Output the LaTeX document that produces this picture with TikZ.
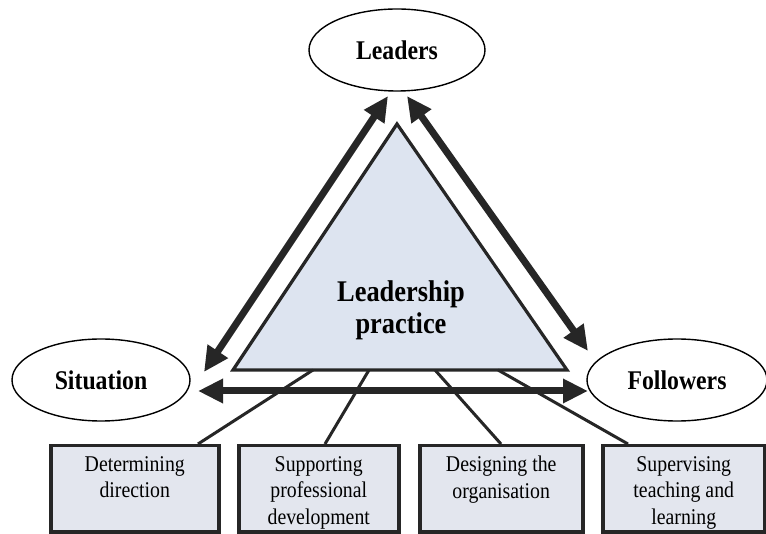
\documentclass[tikz,border=0pt]{standalone}
\usepackage{fontspec}
\setmainfont[FakeStretch=0.88]{Liberation Serif}
\usetikzlibrary{arrows.meta,shapes.geometric}
\definecolor{trifill}{HTML}{DDE4F0}
\definecolor{boxfill}{HTML}{E3E6EE}
\definecolor{edge}{HTML}{262626}
\tikzset{
  oval/.style={ellipse,draw=black,line width=1.4pt,fill=white,minimum width=#1,minimum height=82pt,inner sep=0pt,
    font=\fontsize{27}{30}\selectfont\bfseries},
  panel/.style={rectangle,draw=edge,line width=3.5pt,fill=boxfill,minimum width=#1,minimum height=86pt,inner sep=0pt,anchor=north west},
  paneltext/.style={anchor=north,align=center,inner sep=0pt,font=\fontsize{22.5}{26.5}\selectfont},
  bigarrow/.style={line width=7pt,draw=edge,{Triangle[length=25pt,width=23pt]}-{Triangle[length=25pt,width=23pt]}},
  spoke/.style={line width=3pt,draw=edge},
}
\begin{document}
\begin{tikzpicture}[x=1pt,y=-1pt]
\useasboundingbox[fill=white] (0,0) rectangle (766,534);

% triangle
\coordinate (apex) at (397,124);
\coordinate (bl) at (233,370);
\coordinate (br) at (567,370);
\draw[line width=3.2pt,draw=edge,fill=trifill,line join=miter] (apex) -- (bl) -- (br) -- cycle;
\node[align=center,font=\fontsize{30}{32}\selectfont\bfseries] (lp) at (401,310) {Leadership\\practice};

% ellipses
\node[oval=176pt] (leaders) at (397,50) {\raisebox{-3pt}{Leaders}};
\node[oval=178pt] (situation) at (101,380) {Situation};
\node[oval=180pt] (followers) at (677,380) {Followers};

% arrow end points
\coordinate (la) at (388,96);
\coordinate (lb) at (204,372);
\coordinate (ra) at (407,96);
\coordinate (rb) at (588,351);
\coordinate (ha) at (198,391);
\coordinate (hb) at (588,391);

% spokes
\coordinate (s1) at (313,370);
\coordinate (s2) at (369,370);
\coordinate (s3) at (435,370);
\coordinate (s4) at (498,370);

% boxes
\node[panel=168pt] (b1) at (49,444) {};
\node[panel=160pt] (b2) at (237,444) {};
\node[panel=163pt] (b3) at (418,444) {};
\node[panel=162pt] (b4) at (601,444) {};

\coordinate (t1) at (198,444);
\coordinate (t2) at (325,444);
\coordinate (t3) at (501,444);
\coordinate (t4) at (628,444);

\draw[spoke] (s1) -- (t1);
\draw[spoke] (s2) -- (t2);
\draw[spoke] (s3) -- (t3);
\draw[spoke] (s4) -- (t4);

\draw[bigarrow] (la) -- (lb);
\draw[bigarrow] (ra) -- (rb);
\draw[bigarrow] (ha) -- (hb);

\node[paneltext] at ([yshift=-12pt]b1.north) {Determining\\direction};
\node[paneltext] at ([yshift=-12pt]b2.north) {Supporting\\professional\\development};
\node[paneltext] at ([yshift=-12pt]b3.north) {Designing the\\organisation};
\node[paneltext] at ([yshift=-12pt]b4.north) {Supervising\\teaching and\\learning};
\end{tikzpicture}
\end{document}
